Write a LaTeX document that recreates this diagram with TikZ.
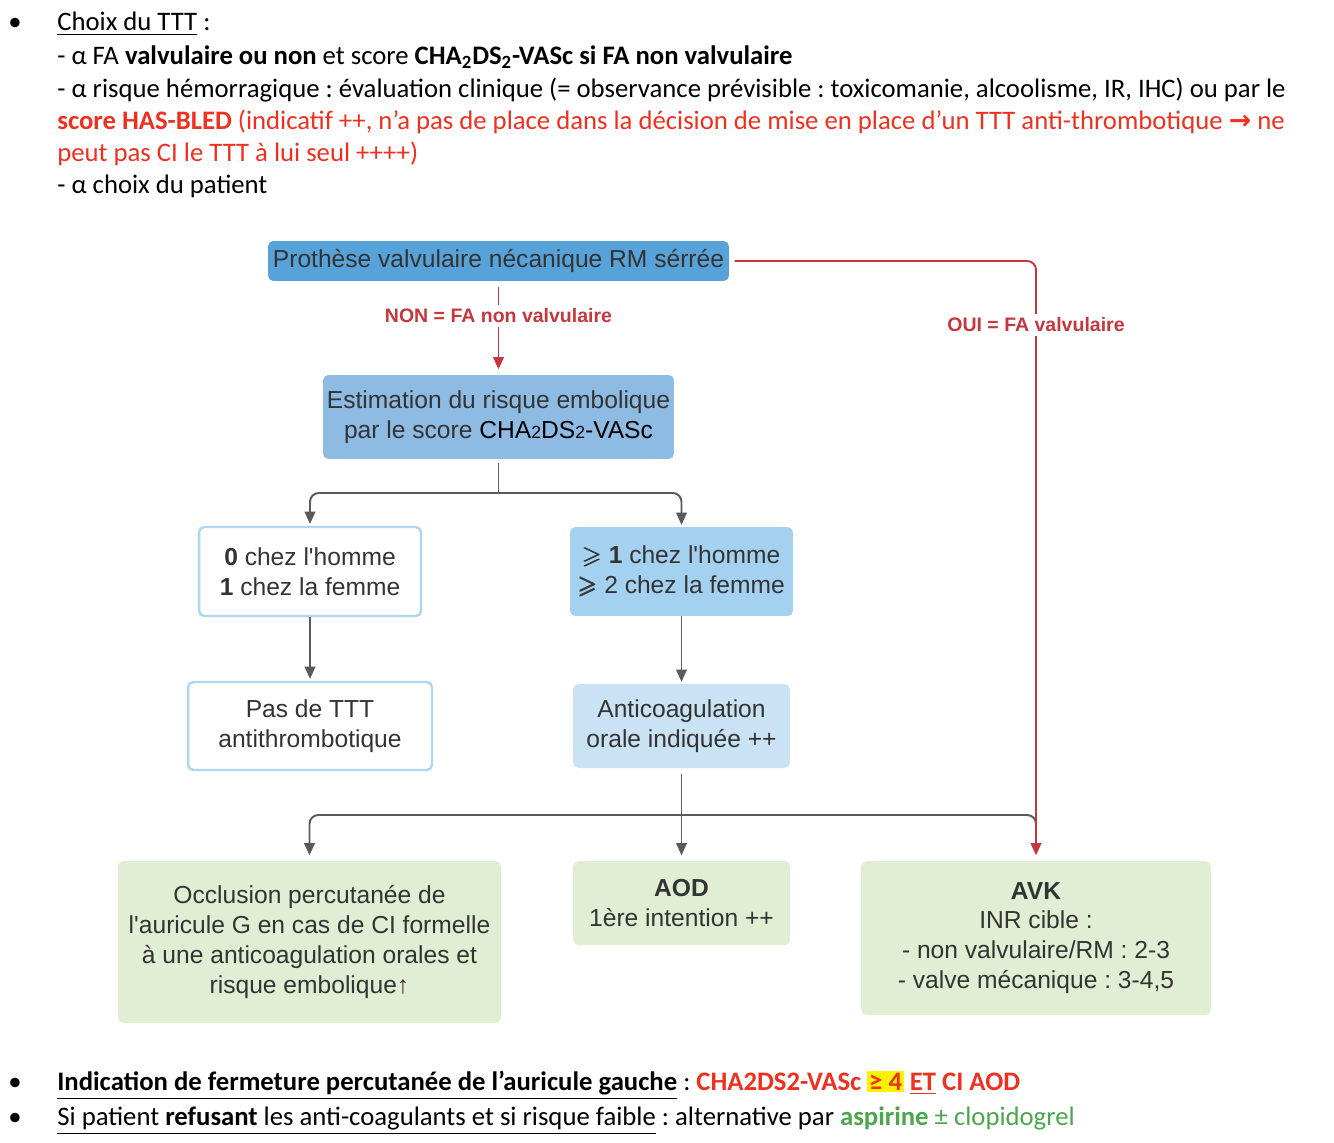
\documentclass[tikz,border=0pt]{standalone}
\usepackage{amsmath,amssymb}
\usepackage{fontspec}
\setmainfont{Carlito}
\newfontfamily\boxfont{Liberation Sans}
\newfontfamily\symfont{DejaVu Sans}
\usetikzlibrary{arrows.meta}
\definecolor{blueA}{HTML}{57A2D8}
\definecolor{blueB}{HTML}{8EBBE3}
\definecolor{blueC}{HTML}{A5D1F0}
\definecolor{blueD}{HTML}{C9E3F5}
\definecolor{blueline}{HTML}{AED6F1}
\definecolor{greenbox}{HTML}{E0EED4}
\definecolor{grayline}{HTML}{5A5A5A}
\definecolor{boxtext}{HTML}{333333}
\definecolor{redline}{HTML}{C5363D}
\definecolor{redtxt}{HTML}{F0301F}
\definecolor{greentxt}{HTML}{4CA64C}
\frenchspacing

\begin{document}
\begin{tikzpicture}[x=0.02cm, y=-0.02cm,
	txt/.style={anchor=base west, inner sep=0pt, font=\fontsize{15.2}{18}\selectfont},
	dot/.style={anchor=base, inner sep=0pt, font=\fontsize{15.2}{18}\selectfont},
	box/.style={rounded corners=3pt, align=center, text=boxtext, inner sep=2pt,
		font=\boxfont\fontsize{14}{17}\selectfont},
	filledbox/.style={box, fill=#1},
	openbox/.style={box, fill=white, draw=blueline, line width=1.4pt},
	greybranch/.style={draw=grayline, line width=1.1pt, rounded corners=5pt},
	greyarrow/.style={greybranch, -{Triangle[length=7pt,width=6pt]}},
	redarrow/.style={draw=redline, line width=1.1pt, rounded corners=5pt, -{Triangle[length=7pt,width=6pt]}},
	choice/.style={fill=white, text=redline, inner sep=2pt, font=\boxfont\bfseries\fontsize{11.1}{13}\selectfont}]
	\useasboundingbox (0,0) rectangle (1334,1142);

	% text above the chart
	\node[dot] (b1) at (15,31) {•};
	\node[txt] (t1) at (57,31) {\underline{Choix du TTT} :};
	\node[txt] (t2) at (57,65) {- α FA \textbf{valvulaire ou non} et score \textbf{CHA\textsubscript{2}DS\textsubscript{2}-VASc si FA non valvulaire}};
	\node[txt] (t3) at (57,98) {- α risque hémorragique : évaluation clinique (= observance prévisible : toxicomanie, alcoolisme, IR, IHC) ou par le};
	\node[txt, text=redtxt] (t4) at (57,130) {\textbf{score HAS-BLED} (indicatif ++, n’a pas de place dans la décision de mise en place d’un TTT anti-thrombotique {\symfont\bfseries →} ne};
	\node[txt, text=redtxt] (t5) at (57,162) {peut pas CI le TTT à lui seul ++++)};
	\node[txt] (t6) at (57,194) {- α choix du patient};

	% chart
	\node[filledbox=blueA, minimum width=9.22cm, minimum height=0.8cm] (proth) at (498.5,261) {Prothèse valvulaire nécanique RM sérrée};
	\node[filledbox=blueB, minimum width=7.02cm, minimum height=1.68cm] (estim) at (498.5,417) {Estimation du risque embolique\\par le score {\color{black}CHA{\fontsize{10}{10}\selectfont 2}DS{\fontsize{10}{10}\selectfont 2}-VASc}};
	\node[openbox, minimum width=4.44cm, minimum height=1.78cm] (low) at (310,571.5) {\textbf{0} chez l'homme\\\textbf{1} chez la femme};
	\node[filledbox=blueC, minimum width=4.46cm, minimum height=1.78cm] (high) at (681.5,571.5) {$\pmb{\geqslant}$ \textbf{1} chez l'homme\\$\pmb{\geqslant}$ 2 chez la femme};
	\node[openbox, minimum width=4.88cm, minimum height=1.76cm] (nottt) at (310,726) {Pas de TTT\\antithrombotique};
	\node[filledbox=blueD, minimum width=4.34cm, minimum height=1.68cm] (aco) at (681.5,726) {Anticoagulation\\orale indiquée ++};
	\node[filledbox=greenbox, minimum width=7.66cm, minimum height=3.24cm] (occl) at (309.5,942) {Occlusion percutanée de\\l'auricule G en cas de CI formelle\\à une anticoagulation orales et\\risque embolique↑};
	\node[filledbox=greenbox, minimum width=4.34cm, minimum height=1.68cm] (aod) at (681.5,903) {\textbf{AOD}\\1ère intention ++};
	\node[filledbox=greenbox, minimum width=7.0cm, minimum height=3.08cm] (avk) at (1036,938) {\textbf{AVK}\\INR cible :\\- non valvulaire/RM : 2-3\\- valve mécanique : 3-4,5};

	\coordinate (split1) at (498.5,493);
	\coordinate (split2) at (681.5,815);

	\draw[greybranch, shorten <=2pt] (estim.south) -- (split1);
	\draw[greyarrow, shorten >=1pt] (split1) -| (low.north);
	\draw[greyarrow, shorten >=1pt] (split1) -| (high.north);
	\draw[greyarrow, shorten >=1pt] (low) -- (nottt);
	\draw[greyarrow, shorten >=1pt] (high) -- (aco);
	\draw[greybranch, shorten <=3pt] (aco.south) -- (split2);
	\draw[greyarrow, shorten >=3pt] (split2) -- (aod.north);
	\draw[greyarrow, shorten >=3pt] (split2) -| (occl.north);
	\draw[greybranch] (split2) -| ([yshift=20pt]avk.north);

	\draw[redarrow, shorten <=3pt, shorten >=3pt] (proth.south) -- (estim.north);
	\draw[redarrow, shorten <=3pt, shorten >=3pt] (proth.east) -| (avk.north);
	\node[choice] (non) at (498.5,316) {NON = FA non valvulaire};
	\node[choice] (oui) at (1036,325) {OUI = FA valvulaire};

	% text below the chart
	\node[dot] (b2) at (15,1090) {•};
	\node[txt] (t7) at (57,1090) {\underline{\textbf{Indication de fermeture percutanée de l’auricule gauche}} : \textcolor{redtxt}{\textbf{CHA2DS2-VASc {\fboxsep=1pt\colorbox{yellow}{≥ 4}} \underline{ET} CI AOD}}};
	\node[dot] (b3) at (15,1125) {•};
	\node[txt] (t8) at (57,1125) {\underline{Si patient \textbf{refusant} les anti-coagulants et si risque faible} : alternative par \textcolor{greentxt}{\textbf{aspirine} ± clopidogrel}};
\end{tikzpicture}
\end{document}
